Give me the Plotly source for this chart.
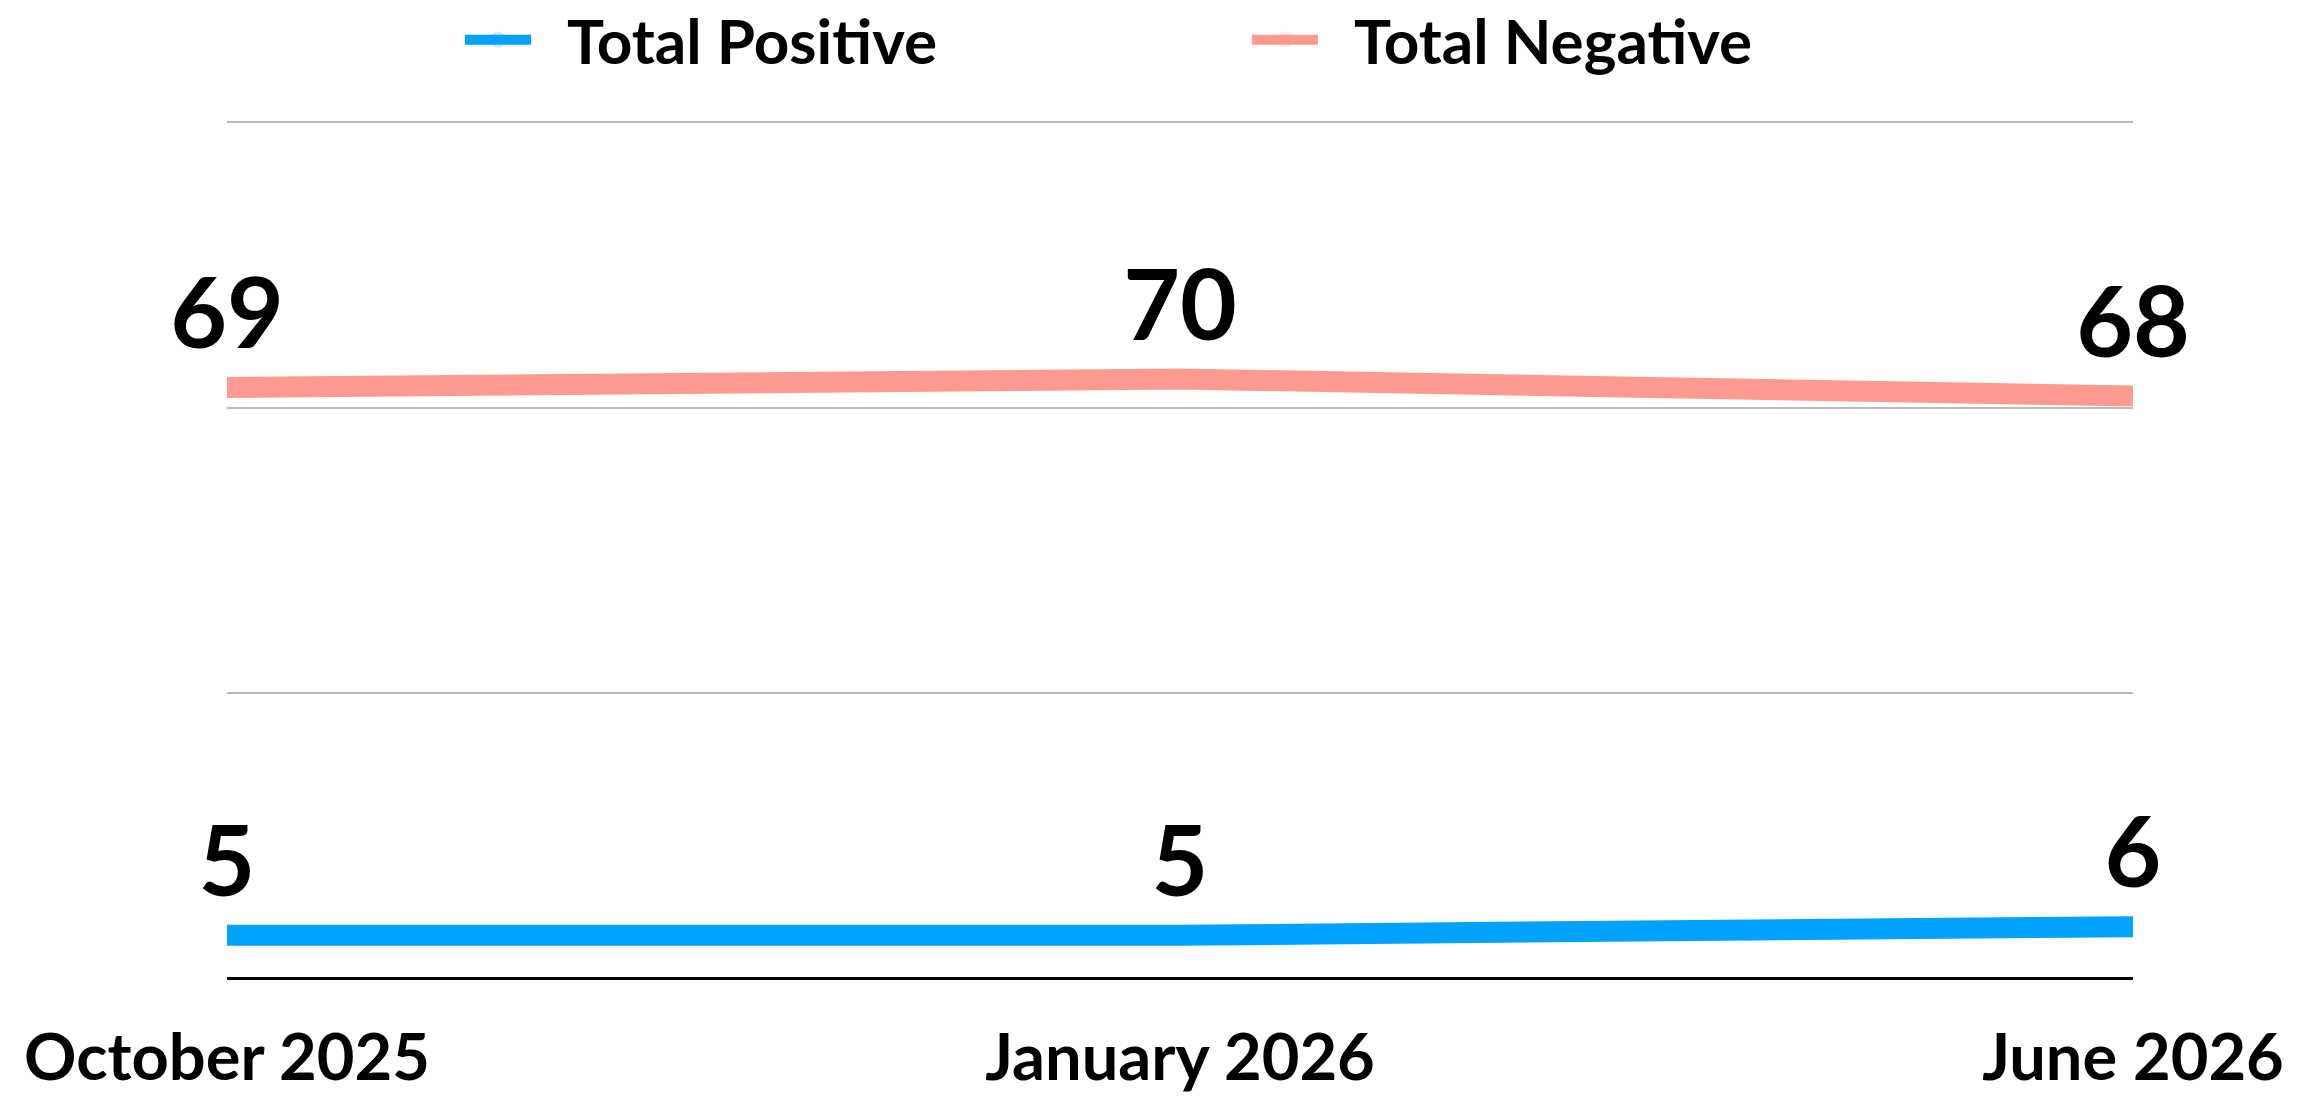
import plotly.graph_objects as go

categories = ["October 2025", "January 2026", "June 2026"]
total_positive = [5, 5, 6]
total_negative = [69, 70, 68]
grid_vals = [0, 100/3, 200/3, 100]

FONT = "Lato"
fig = go.Figure()
fig.add_trace(go.Scatter(
    x=categories, y=total_positive, name="\u2002Total Positive",
    mode="lines+markers+text", text=[str(v) for v in total_positive],
    textposition="top center",
    textfont=dict(size=98, color="#000000", family=FONT, weight="bold"),
    line=dict(color="#00A2FF", width=21),
    marker=dict(size=22, opacity=0, color="#00A2FF"),
    cliponaxis=False,
))
fig.add_trace(go.Scatter(
    x=categories, y=total_negative, name="\u2002Total Negative",
    mode="lines+markers+text", text=[str(v) for v in total_negative],
    textposition="top center",
    textfont=dict(size=98, color="#000000", family=FONT, weight="bold"),
    line=dict(color="#FF9A90", width=21),
    marker=dict(size=22, opacity=0, color="#FF9A90"),
    cliponaxis=False,
))

fig.update_layout(
    width=2310, height=1096,
    margin=dict(l=227, r=177, t=121, b=118, autoexpand=False),
    paper_bgcolor="white", plot_bgcolor="white",
    font=dict(family=FONT, color="#000000"),
    showlegend=True,
    legend=dict(orientation="h", x=(460 - 227) / 1906, xanchor="left", y=1.0945, yanchor="middle",
                font=dict(size=62, family=FONT, weight="bold"),
                itemwidth=66, entrywidth=706, traceorder="normal"),
    xaxis=dict(type="category", range=[0, 2], showgrid=False, showline=False,
               zeroline=False, ticks="", tickfont=dict(size=65, family=FONT, weight="bold"),
               ticklabelstandoff=36, automargin=False, fixedrange=True),
    yaxis=dict(range=[0, 100.15], tickmode="array", tickvals=grid_vals, showticklabels=False,
               showgrid=True, gridcolor="#BBBBBB", gridwidth=2, automargin=False,
               zeroline=True, zerolinecolor="#000000", zerolinewidth=3, fixedrange=True),
)
fig.write_html("out.html", config={"displayModeBar": False},
               post_script="document.body.style.margin='0';document.documentElement.style.overflow='hidden';")
